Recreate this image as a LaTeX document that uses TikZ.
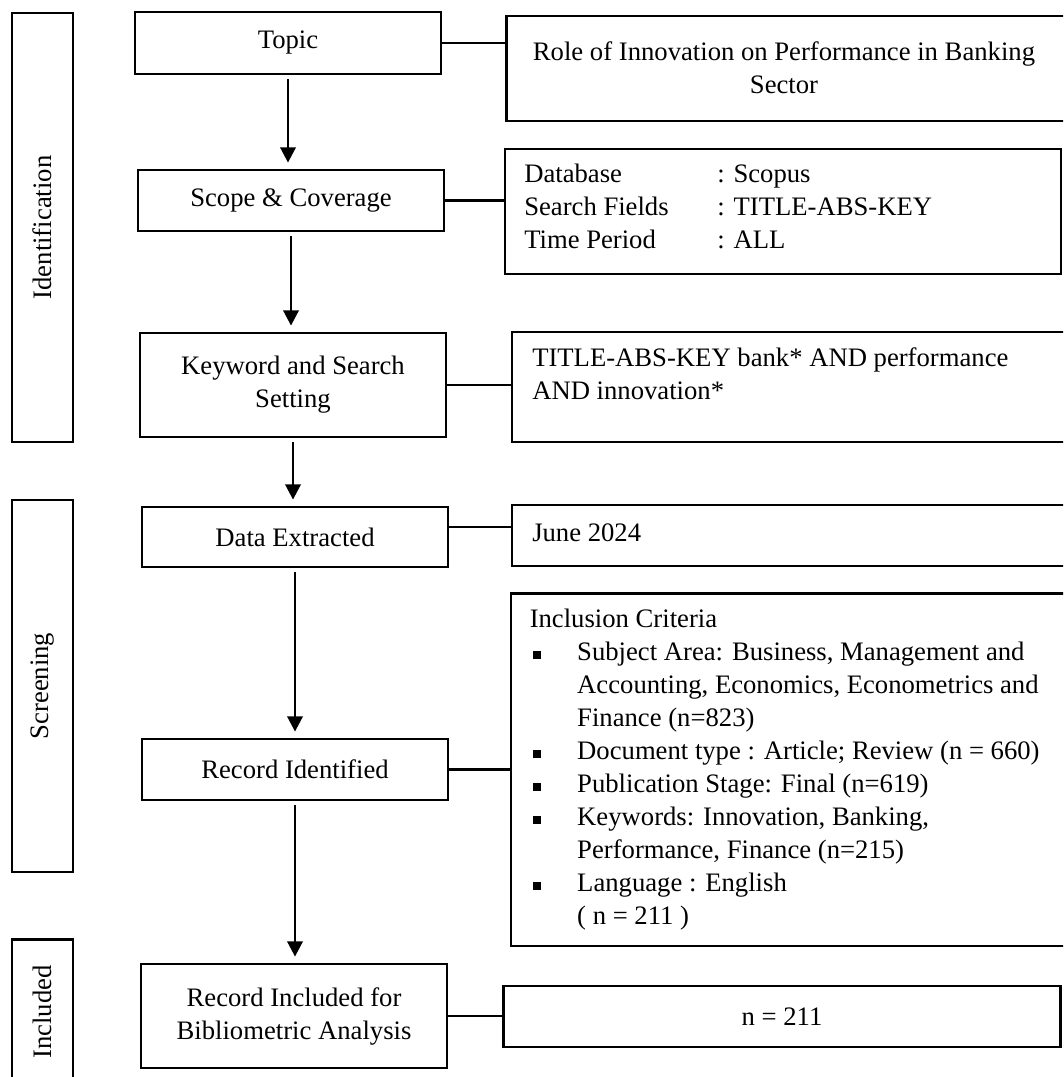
\documentclass[tikz,border=0pt]{standalone}
\usepackage{fontspec}
\setmainfont{Liberation Serif}
\usetikzlibrary{arrows.meta}
\newcommand{\bulitem}{\makebox[35.6pt][l]{\hspace{2.3pt}\raisebox{1.7pt}{\rule{5.8pt}{5.8pt}}}}
\newcommand{\contind}{\hspace*{35.6pt}}
\tikzset{
  bx/.style={draw, line width=2.1pt, inner sep=0pt, rectangle},
  sz/.style 2 args={minimum width=#1*0.75pt, minimum height=#2*0.75pt},
  txt/.style={inner sep=0pt, font=\fontsize{20}{24.75}\selectfont},
  arr/.style={-{Triangle[width=11.5pt,length=11.5pt]}, line width=2.1pt, shorten >=4.5pt, shorten <=3pt},
  conn/.style={line width=2.1pt}
}
\begin{document}
\begin{tikzpicture}[x=0.75pt,y=-0.75pt]
\useasboundingbox (0,0) rectangle (1063,1077);
\clip (0,0) rectangle (1063,1077);
\fill[white] (0,0) rectangle (1063,1077);

% phase bars
\node[bx, sz={61}{429}] (identbar) at (42.5,227.5) {};
\node[txt, rotate=90] (identtxt) at (identbar.center) {Identification};
\node[bx, sz={61}{372}] (screenbar) at (42.5,686) {};
\node[txt, rotate=90] (screentxt) at (screenbar.center) {Screening};
\node[bx, sz={61}{145}] (inclbar) at (42.5,1012) {};
\node[txt, rotate=90] (incltxt) at (inclbar.center) {Included};

% left column boxes
\node[bx, txt, draw, line width=2.1pt, sz={306}{62}] (topic) at (288,43) {Topic};
\node[bx, txt, draw, line width=2.1pt, sz={306}{61}] (scope) at (291,200.5) {Scope \& Coverage};
\node[bx, txt, draw, line width=2.1pt, sz={306}{104}, align=center] (keyword) at (293,385) {Keyword and Search\\Setting};
\node[bx, txt, draw, line width=2.1pt, sz={306}{60}] (data) at (295,537) {Data Extracted};
\node[bx, txt, draw, line width=2.1pt, sz={306}{61}] (record) at (295,769.5) {Record Identified};
\node[bx, txt, draw, line width=2.1pt, sz={306}{104}, align=center] (included) at (294,1016) {Record Included for\\Bibliometric Analysis};

% right column boxes
\node[bx, sz={564}{105}] (topicR) at (788.5,68.5) {};
\node[txt, align=center] (topicRT) at (784,68) {Role of Innovation on Performance in Banking\\Sector};

\node[bx, sz={556}{125}] (scopeR) at (783,211.5) {};
\node[txt, align=left, anchor=west] (scopeRT) at (524,206) {\makebox[144.75pt][l]{Database}: Scopus\\\makebox[144.75pt][l]{Search Fields}: TITLE-ABS-KEY\\\makebox[144.75pt][l]{Time Period}: ALL};

\node[bx, sz={558}{110}] (keywordR) at (791,387) {};
\node[txt, align=left, anchor=west] (keywordRT) at (532,373.5) {TITLE-ABS-KEY bank* AND performance\\AND innovation*};

\node[bx, sz={558}{61}] (juneR) at (791,535.5) {};
\node[txt, anchor=west] (juneRT) at (532,533) {June 2024};

\node[bx, sz={559}{352.5}] (inclR) at (790.5,769.75) {};
\node[txt, align=left, anchor=north west] (inclRT) at (529.5,609) {Inclusion Criteria\\
\bulitem Subject Area: Business, Management and\\
\contind Accounting, Economics, Econometrics and\\
\contind Finance (n=823)\\
\bulitem Document type : Article; Review (n = 660)\\
\bulitem Publication Stage: Final (n=619)\\
\bulitem Keywords: Innovation, Banking,\\
\contind Performance, Finance (n=215)\\
\bulitem Language : English\\
\contind ( n = 211 )};

\node[bx, txt, sz={557}{61}] (nR) at (782,1016.5) {n = 211};

% arrows
\draw[arr] (topic.south) -- (topic.south |- scope.north);
\draw[arr] (scope.south) -- (scope.south |- keyword.north);
\draw[arr] (keyword.south) -- (keyword.south |- data.north);
\draw[arr] (data.south) -- (data.south |- record.north);
\draw[arr] (record.south) -- (record.south |- included.north);

% connectors
\draw[conn] (topic.east) -- (topic.east -| topicR.west);
\draw[conn] (scope.east) -- (scope.east -| scopeR.west);
\draw[conn] (keyword.east) -- (keyword.east -| keywordR.west);
\draw[conn] ([yshift=7.5pt]data.east) -- ([yshift=7.5pt]data.east -| juneR.west);
\draw[conn] (record.east) -- (record.east -| inclR.west);
\draw[conn] (included.east) -- (included.east -| nR.west);
\end{tikzpicture}
\end{document}
